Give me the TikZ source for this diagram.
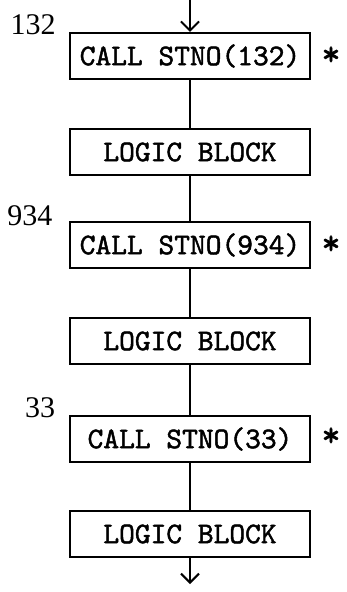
\documentclass[tikz,border=0pt]{standalone}
\usepackage{fontspec}
\setmainfont{Liberation Serif}
\newfontfamily\boxfont[AutoFakeBold=1.6]{lmmono10-regular.otf}
\usetikzlibrary{arrows.meta}
\tikzset{
  block/.style={draw, line width=2.2pt, minimum width=240pt, minimum height=46pt,
    inner sep=0pt, font=\fontsize{30}{30}\selectfont\boxfont\bfseries},
  stno/.style={font=\fontsize{30}{30}\selectfont},
  mark star/.style={font=\fontsize{36}{36}\selectfont\boxfont\bfseries}
}
\begin{document}
\begin{tikzpicture}[x=1pt, y=-1pt, line width=2pt, >={Straight Barb[length=9pt,width=18pt]}]
        \useasboundingbox (0,0) rectangle (347,592);
        % Define node positions
        \coordinate (top) at (190, 0); \coordinate (bot) at (190, 584);
        \node[block] (C1) at (190, 56) {CALL STNO(132)};
        \node[block] (L1) at (190, 152) {LOGIC BLOCK};
        \node[block] (C2) at (190, 245) {CALL STNO(934)};
        \node[block] (L2) at (190, 341) {LOGIC BLOCK};
        \node[block] (C3) at (190, 439) {CALL STNO(33)};
        \node[block] (L3) at (190, 534) {LOGIC BLOCK};

        % Statement numbers and marks
        \node[stno] (n1) at (33, 25) {132}; \node[stno] (n2) at (30, 216) {934};
        \node[stno] (n3) at (40, 408) {33};
        \node[mark star] (s1) at (331, 56) {*}; \node[mark star] (s2) at (331, 245) {*};
        \node[mark star] (s3) at (331, 437) {*};

        % Draw arrows
        \draw[->] (top) -- (C1); \draw (C1) -- (L1); \draw (L1) -- (C2);
        \draw (C2) -- (L2); \draw (L2) -- (C3); \draw (C3) -- (L3);
        \draw[->] (L3) -- (bot);
    \end{tikzpicture}
\end{document}
